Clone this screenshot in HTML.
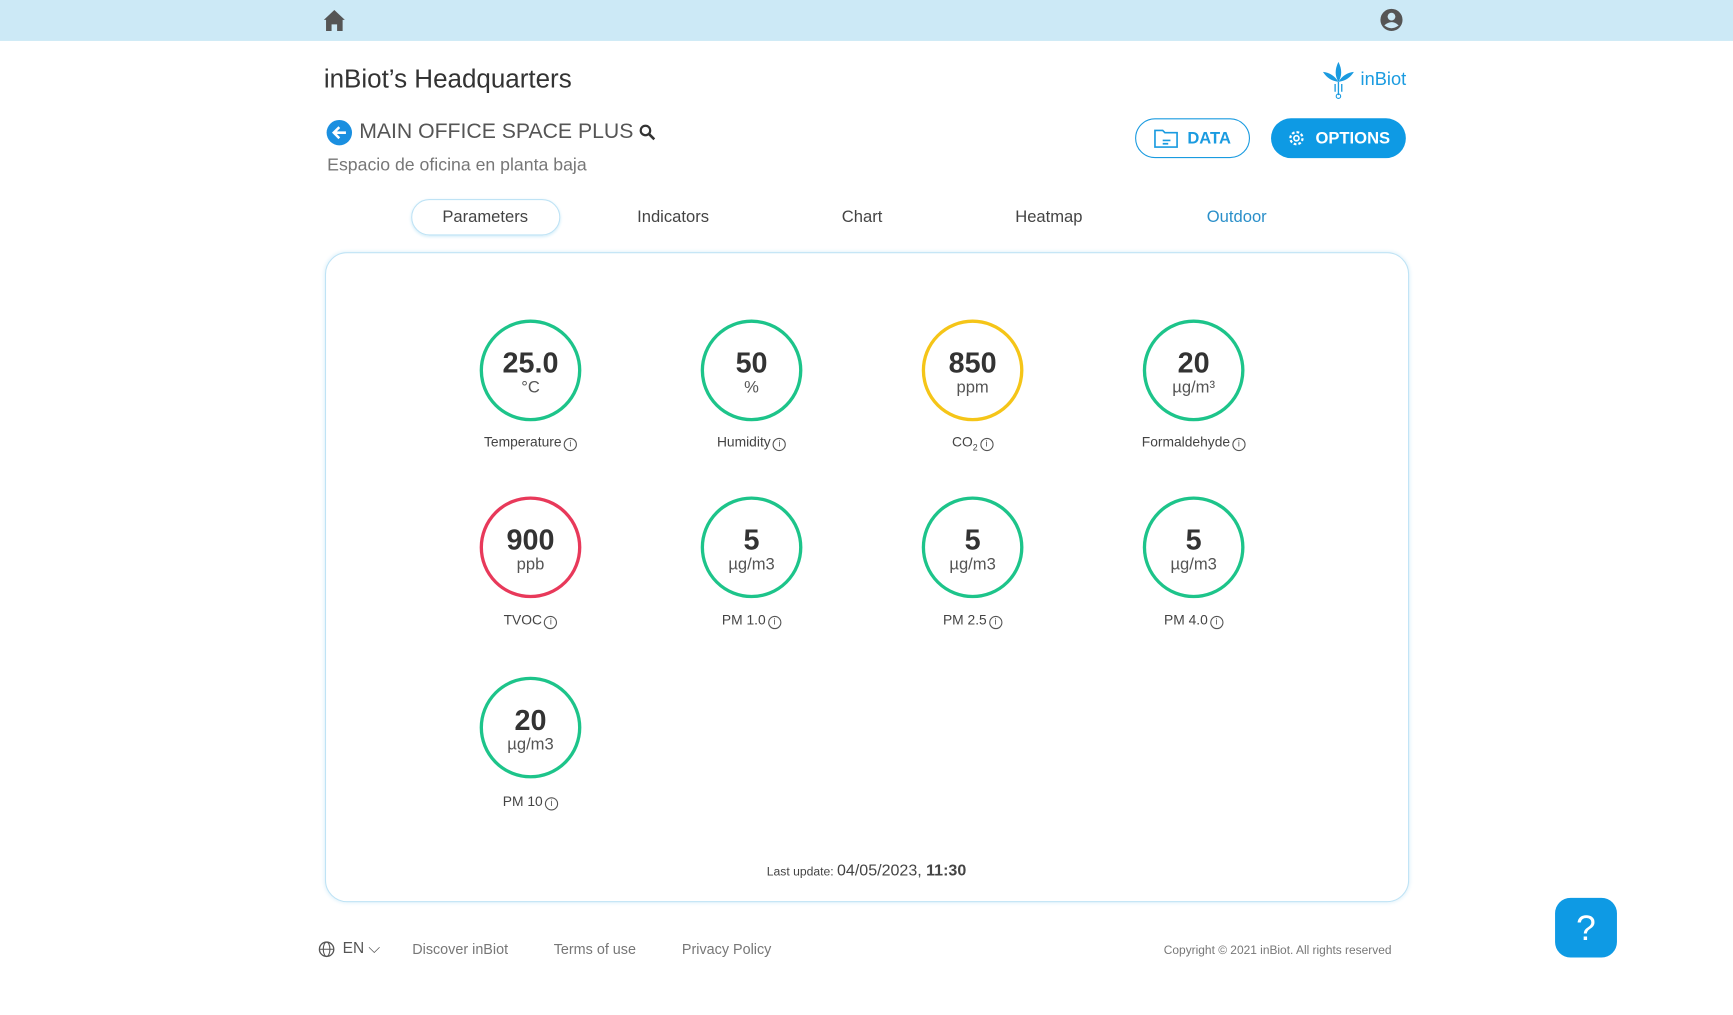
<!DOCTYPE html>
<html><head><meta charset="utf-8"><style>
html,body{margin:0;padding:0;width:1733px;height:1015px;overflow:hidden;background:#fff;font-family:"Liberation Sans",sans-serif;}
#wrap{position:absolute;left:0;top:0;width:1568px;height:918px;transform:scale(1.10523,1.1057);transform-origin:0 0;}
.abs{position:absolute;}
.topbar{left:0;top:0;width:1568px;height:37px;background:#cce9f6;}
.title{left:293px;top:58px;font-size:23.5px;color:#333;}
.sub{left:296px;top:141px;font-size:16px;color:#777;}
.space{left:325px;top:109px;font-size:19.2px;color:#555;}
.btn{border-radius:18px;font-size:15px;font-weight:bold;display:flex;align-items:center;justify-content:center;gap:8px;box-sizing:border-box;}
.tab{top:188px;font-size:15px;color:#444;width:140px;text-align:center;}
.card{left:294px;top:228px;width:981px;height:588px;border:1.5px solid #bfe3f5;border-radius:20px;box-sizing:border-box;box-shadow:0 0 4px #d8eef9;}
.gauge{width:92px;height:92px;border-radius:50%;box-sizing:border-box;border:3px solid #1dc48a;text-align:center;}
.gv{font-size:26px;font-weight:bold;color:#333;margin-top:23px;line-height:26px;}
.gu{font-size:15px;color:#555;line-height:19px;}
.lbl{font-size:12.5px;color:#444;width:160px;text-align:center;}
.info{display:inline-block;width:10px;height:10px;border:1px solid #555;border-radius:50%;font-size:8px;line-height:10px;text-align:center;vertical-align:0px;margin-left:2px;}
.foot{top:851px;font-size:13px;color:#777;}
</style></head><body>
<div id="wrap">
<div class="abs topbar"></div>
<svg class="abs" style="left:292px;top:8px" width="21" height="20"><path d="M1 10 L10.5 1 L20 10 L18 10 L18 20 L13 20 L13 14 L8 14 L8 20 L3 20 L3 10Z" fill="#555"/></svg>
<svg class="abs" style="left:1248px;top:7px" width="22" height="22"><circle cx="11" cy="11" r="10" fill="#555"/><circle cx="11" cy="8" r="3.5" fill="#cce9f6"/><path d="M4.5 16 Q11 10 17.5 16 Q11 21 4.5 16Z" fill="#cce9f6"/></svg>
<div class="abs title">inBiot’s Headquarters</div>
<div class="abs" style="left:1196px;top:54px;display:flex;align-items:center;gap:5px">
<svg width="30" height="36"><path d="M15 2 Q20 12 15 20 Q10 12 15 2Z M15 20 Q6 19 1 11 Q10 12 15 20Z M15 20 Q24 19 29 11 Q20 12 15 20Z" fill="#1a9be0"/><path d="M15 20 L15 32 M12 22 L12 29 M18 22 L18 29" stroke="#1a9be0" stroke-width="1.2"/><circle cx="15" cy="33" r="2" fill="none" stroke="#1a9be0"/></svg>
<span style="font-size:16.5px;color:#1a9be0">inBiot</span></div>
<svg class="abs" style="left:295px;top:108px" width="24" height="24"><circle cx="12" cy="12" r="11.5" fill="#1a8fe0"/><path d="M18 12 H7 M12 7 L7 12 L12 17" stroke="#fff" stroke-width="2.3" fill="none"/></svg>
<div class="abs space">MAIN OFFICE SPACE PLUS</div>
<svg class="abs" style="left:578px;top:112px" width="16" height="16"><circle cx="6" cy="6" r="4.3" stroke="#333" stroke-width="2" fill="none"/><path d="M9 9 L14 14" stroke="#333" stroke-width="2.3"/></svg>
<div class="abs sub">Espacio de oficina en planta baja</div>
<div class="abs btn" style="left:1027px;top:107px;width:104px;height:36px;border:1.5px solid #1a9be0;color:#1a9be0"><svg width="22" height="18"><path d="M1 2 H8 L10 4 H21 V17 H1Z" fill="none" stroke="#1a9be0" stroke-width="1.5"/><path d="M8 11 H15 M8 14 H13" stroke="#1a9be0" stroke-width="1.5"/></svg>DATA</div>
<div class="abs btn" style="left:1150px;top:107px;width:122px;height:36px;background:#0e9ae4;color:#fff"><svg width="18" height="18"><circle cx="9" cy="9" r="5.5" fill="none" stroke="#fff" stroke-width="2" stroke-dasharray="2.5 1.8"/><circle cx="9" cy="9" r="2.3" fill="none" stroke="#fff" stroke-width="1.5"/></svg>OPTIONS</div>
<div class="abs" style="left:372px;top:180px;width:135px;height:33px;border:1.5px solid #bfe3f5;border-radius:17px;box-sizing:border-box;box-shadow:0 1px 3px #cdebf8"></div>
<div class="abs tab" style="left:369px">Parameters</div>
<div class="abs tab" style="left:539px">Indicators</div>
<div class="abs tab" style="left:710px">Chart</div>
<div class="abs tab" style="left:879px">Heatmap</div>
<div class="abs tab" style="left:1049px;color:#2a8fc9">Outdoor</div>
<div class="abs card"></div>
<div id="gauges"></div>
<div class="abs" style="left:584px;top:779px;width:400px;text-align:center;color:#444"><span style="font-size:11px">Last update: </span><span style="font-size:14.5px">04/05/2023, <b>11:30</b></span></div>
<svg class="abs" style="left:288px;top:851px" width="15" height="15"><circle cx="7.5" cy="7.5" r="6.5" fill="none" stroke="#555" stroke-width="1.2"/><ellipse cx="7.5" cy="7.5" rx="3" ry="6.5" fill="none" stroke="#555"/><path d="M1 7.5 H14" stroke="#555"/></svg>
<div class="abs foot" style="left:310px;color:#555;font-size:14px;top:849px">EN ⌵</div>
<div class="abs foot" style="left:373px">Discover inBiot</div>
<div class="abs foot" style="left:501px">Terms of use</div>
<div class="abs foot" style="left:617px">Privacy Policy</div>
<div class="abs foot" style="left:1053px;top:854px;font-size:10.8px">Copyright © 2021 inBiot. All rights reserved</div>
<div class="abs" style="left:1407px;top:812px;width:56px;height:54px;border-radius:14px;background:#0e9ae4;color:#fff;font-size:32px;text-align:center;line-height:54px">?</div>
</div>
<script>
const names=['Temperature','Humidity','CO₂','Formaldehyde','TVOC','PM 1.0','PM 2.5','PM 4.0','PM 10'];
const values=['25.0','50','850','20','900','5','5','5','20'];
const units=['°C','%','ppm','µg/m³','ppb','µg/m3','µg/m3','µg/m3','µg/m3'];
const colors=['#1dc48a','#1dc48a','#f5c518','#1dc48a','#e8395a','#1dc48a','#1dc48a','#1dc48a','#1dc48a'];
const g=document.getElementById('gauges');
const cx=[480,680,880,1080],cy=[335,495,658],ly=[393,554,718];
names.forEach((n,i)=>{
  const c=i%4,r=Math.floor(i/4);
  const d=document.createElement('div');
  d.className='abs gauge';
  d.style.left=(cx[c]-46)+'px';d.style.top=(cy[r]-46)+'px';d.style.borderColor=colors[i];
  
  
  d.innerHTML='<div class="gv">'+values[i]+'</div><div class="gu">'+units[i]+'</div>';
  g.appendChild(d);
  const l=document.createElement('div');
  l.className='abs lbl';
  l.style.left=(cx[c]-80)+'px';l.style.top=ly[r]+'px';
  
  
  l.innerHTML=(n==='CO₂'?'CO<sub style="font-size:8px">2</sub>':n)+'<span class="info">i</span>';
  g.appendChild(l);
});
</script>
</body></html>
